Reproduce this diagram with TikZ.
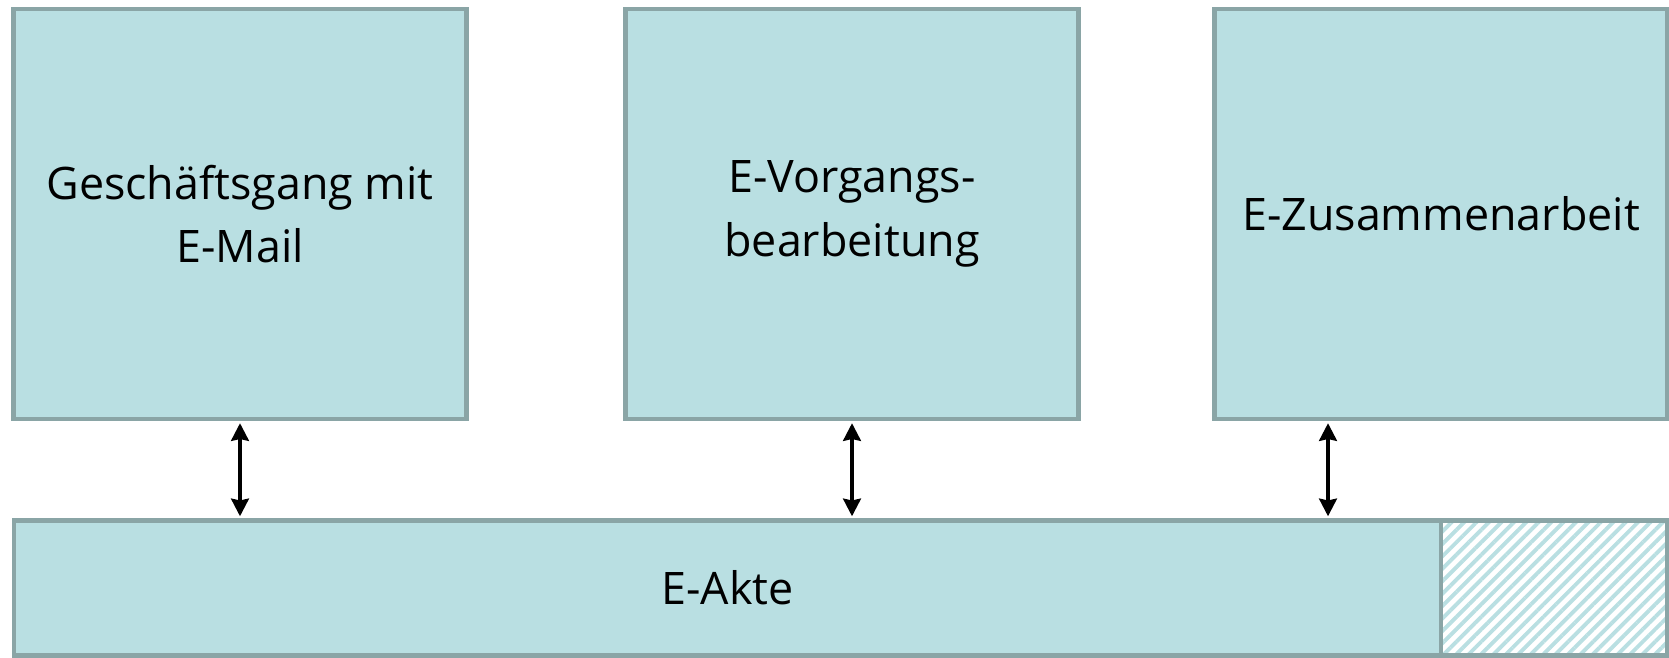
\documentclass[tikz,border=0pt]{standalone}
\usepackage{fontspec}
\setmainfont{Open Sans}
\usetikzlibrary{arrows.meta,positioning,patterns.meta}
\definecolor{AkteFill}{RGB}{185,223,226}
\definecolor{AkteRand}{RGB}{138,165,166}

\tikzset{
  block/.style={draw=AkteRand, fill=AkteFill, line width=2.4pt,
    align=center, inner sep=0pt, font=\fontsize{25.5}{36}\selectfont},
  modul/.style={block, minimum width=9.06cm, minimum height=8.2cm},
  pfeil/.style={{Stealth[length=10pt,width=10pt,inset=1pt]}-{Stealth[length=10pt,width=10pt,inset=1pt]},
    line width=2.8pt, shorten <=1.2pt, shorten >=1.2pt}
}

\begin{document}
\begin{tikzpicture}[x=0.02cm, y=-0.02cm]
  \useasboundingbox (0,0) rectangle (1669,657);

  % Fachmodule oben
  \node[modul] (mail) at (240,214) {Geschäftsgang mit\\E-Mail};
  \node[modul] (vorgang) at (852,214) {E-Vorgangs-\\bearbeitung};
  \node[modul] (zusammen) at (1441,214) {E-Zusammenarbeit};

  % Basis: E-Akte und schraffierter Rest
  \node[block, minimum width=28.56cm, minimum height=2.7cm] (akte) at (727.5,588) {E-Akte};
  \node[block, preaction={fill=white}, pattern={Lines[angle=45,distance=5pt,line width=2.2pt]},
    pattern color=AkteFill, minimum width=4.51cm, minimum height=2.7cm] (rest) at (1554,588) {};

  % Verbindungen
  \coordinate (zx) at (1328,0);
  \draw[pfeil] (mail.south) -- (akte.north -| mail.south);
  \draw[pfeil] (vorgang.south) -- (akte.north -| vorgang.south);
  \draw[pfeil] (zusammen.south -| zx) -- (akte.north -| zx);
\end{tikzpicture}
\end{document}
